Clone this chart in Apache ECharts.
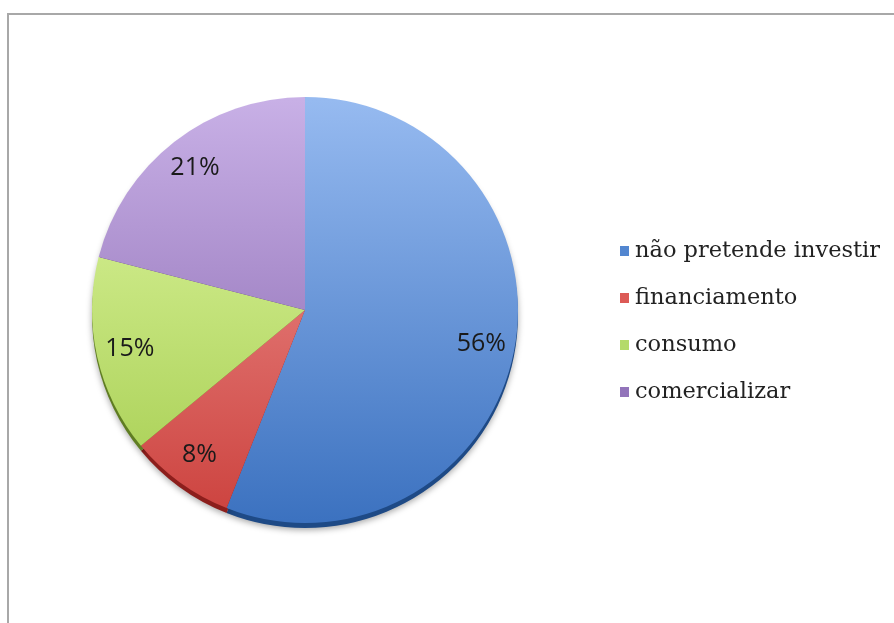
<!DOCTYPE html>
<html>
<head>
<meta charset="utf-8">
<script src="https://cdn.jsdelivr.net/npm/echarts@6/dist/echarts.min.js"></script>
<style>
  html, body { margin: 0; padding: 0; background: #fff; }
  #chart { width: 894px; height: 623px; }
</style>
</head>
<body>
<div id="chart"></div>
<script>
// Intended use of investment, share of respondents (%)
const categories = ['não pretende investir', 'financiamento', 'consumo', 'comercializar'];
const shares = [56, 8, 15, 21];

// Face colours: light top, darker bottom; rim colours for the bevelled edge
const topColors = ['#96baf0', '#f29c9a', '#e2f9a6', '#c8b0e6'];
const bottomColors = ['#3c72c0', '#cc423e', '#a4cc4e', '#8260aa'];
const rimColors = ['#1e4a86', '#8c1e1c', '#5f7d22', '#4e3470'];
const legendColors = ['#5286d0', '#dc5a56', '#b4da6a', '#9274ba'];

const chart = echarts.init(document.getElementById('chart'));

const faceGradient = (i) => new echarts.graphic.LinearGradient(0, 100, 0, 520, [
  { offset: 0, color: topColors[i] },
  { offset: 1, color: bottomColors[i] }
], true);

const center = [305, 310];
const radius = 213;

chart.setOption({
  animation: false,
  graphic: [{
    type: 'rect',
    shape: { x: 8, y: 14, width: 950, height: 700 },
    style: { fill: 'none', stroke: '#a8a8a8', lineWidth: 2 },
    silent: true,
    z: -10
  }],
  legend: {
    orient: 'vertical',
    left: 615,
    top: 234,
    icon: 'rect',
    itemWidth: 9,
    itemHeight: 10,
    itemGap: 23,
    textStyle: {
      fontFamily: 'DejaVu Serif',
      fontSize: 22.5,
      color: '#222',
      lineHeight: 24,
      padding: [0, 0, 0, 1]
    },
    data: categories.map((name, i) => ({
      name,
      itemStyle: { color: legendColors[i] }
    }))
  },
  series: [
    {
      // main face of the pie
      type: 'pie',
      name: 'face',
      center,
      radius,
      startAngle: 90,
      clockwise: true,
      z: 3,
      silent: true,
      label: { show: false },
      labelLine: { show: false },
      itemStyle: { borderWidth: 0 },
      data: categories.map((name, i) => ({
        name,
        value: shares[i],
        itemStyle: { color: faceGradient(i) }
      }))
    },
    {
      // darker bevel edge and soft shadow beneath the face
      type: 'pie',
      name: 'rim',
      center: [center[0], center[1] + 5],
      radius,
      startAngle: 90,
      clockwise: true,
      z: 2,
      silent: true,
      legendHoverLink: false,
      label: { show: false },
      labelLine: { show: false },
      itemStyle: {
        borderWidth: 0,
        shadowColor: 'rgba(0,0,0,0.35)',
        shadowBlur: 6,
        shadowOffsetY: 2
      },
      data: categories.map((name, i) => ({
        name,
        value: shares[i],
        itemStyle: { color: rimColors[i] }
      }))
    },
    {
      // percentage labels placed in an outer ring
      type: 'pie',
      name: 'labels',
      center,
      radius: [140, radius],
      startAngle: 90,
      clockwise: true,
      z: 4,
      silent: true,
      legendHoverLink: false,
      itemStyle: { color: 'rgba(0,0,0,0)', borderWidth: 0 },
      label: {
        show: true,
        position: 'inside',
        formatter: (p) => p.value + '%',
        fontFamily: 'Open Sans',
        fontSize: 25,
        color: '#1a1a1a'
      },
      labelLine: { show: false },
      data: categories.map((name, i) => ({ name, value: shares[i] }))
    }
  ]
});
</script>
</body>
</html>
